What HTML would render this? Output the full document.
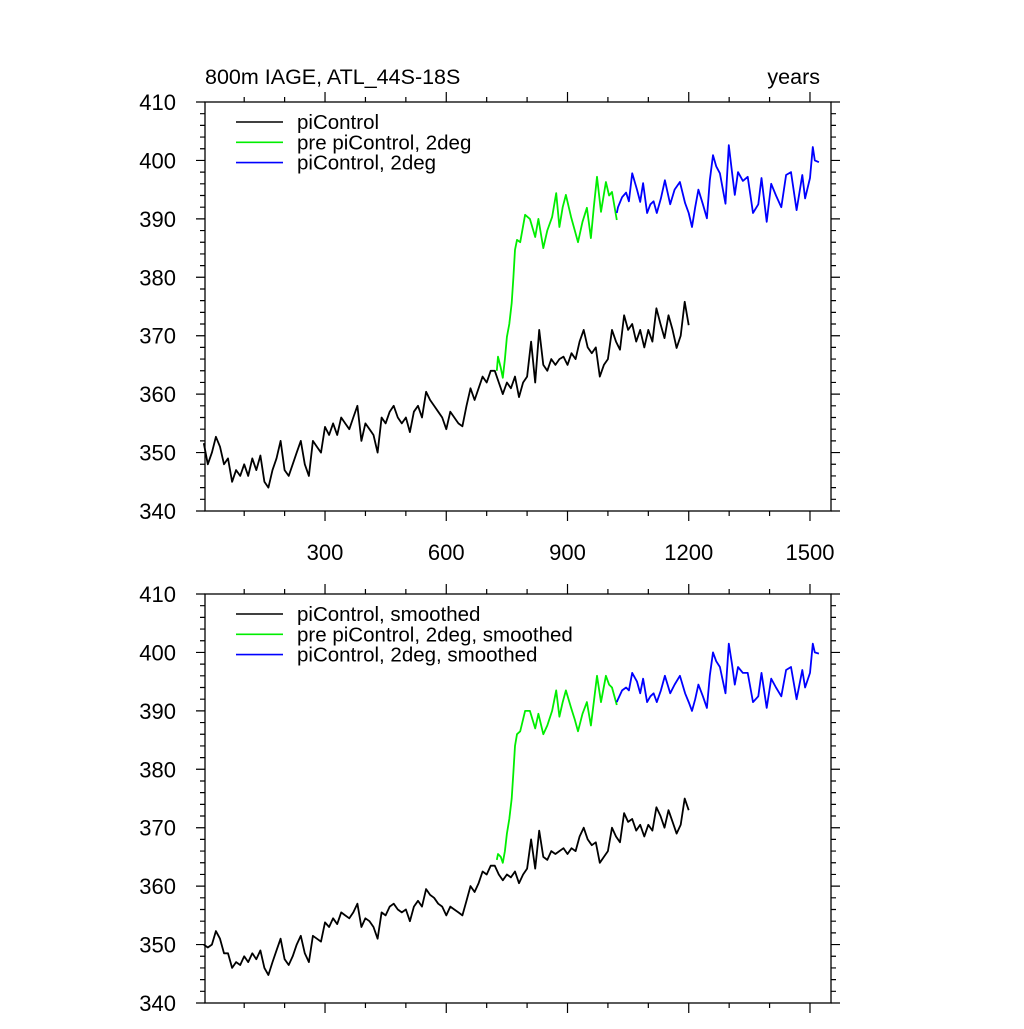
<!DOCTYPE html>
<html><head><meta charset="utf-8"><style>
html,body{margin:0;padding:0;background:#fff}
svg text{font-family:"Liberation Sans",sans-serif;fill:#000}
</style></head><body>
<svg id="c" width="1024" height="1024" viewBox="0 0 1024 1024"></svg>
<script>
const blackStart=0, blackStep=10;
const blackRaw=[351.6,348,350,352.7,351,348,349,345,347,346,
348,346,349,347,349.5,345,344,347,349,352,
347,346,348,350,352,348,346,352,351,350,
354.4,353,355,353,356,355,354,356,358,352,
355,354,353,350,356,355,357,358,356,355,
356,353.5,357,358,356,360.4,359,358,357,356,
354,357,356,355,354.5,358,361,359,361,363,
362,364,364,362,360,362,361,363,359.5,362,
363,369,362,371,365,364,366,365,366,366.4,
365,367,366,369,371,368,367,368,363,365,
366,371,369,367.6,373.5,371,372,369,371,368,
371,369,374.7,372,369.6,373.5,371,367.9,370,375.8,371.8];
const blackSmooth=[350,349.5,350,352.3,351,348.5,348.5,346,347,346.5,
348,347,348.5,347.5,349,346,344.8,347,349,351,
347.5,346.5,348,350,351.5,348.5,347,351.5,351,350.5,
353.8,353,354.5,353.5,355.5,355,354.5,355.5,357,353,
354.5,354,353,351,355.5,355,356.5,357,356,355.5,
356,354,356.5,357.5,356.5,359.5,358.5,358,357,356.5,
355,356.5,356,355.5,355,357.5,360,359,360.5,362.5,
362,363.5,363.5,362,361,362,361.5,362.5,360.5,362,
363,368,363,369.5,365,364.5,366,365.5,366,366.5,
365.5,366.5,366,368.5,370,368,367,367.5,364,365,
366,370,368.5,367.5,372.5,371,371.5,369.5,370.5,368.5,
370.5,369.5,373.5,372,370,373,371,369,370.5,375,373];
const greenYears=[725,728,735,740,745,750,756,762,766,770,775,783,795,807,820,828,840,850,862,872,880,888,896,909,918,926,937,948,958,965,973,983,995,1003,1010,1022];
const greenRaw=[364,366.4,364.5,362.8,366,369.8,372,375.6,380,384.7,386.4,386,390.7,390,386.9,390,385,388,390.3,394.4,388.6,392,394.1,390.3,388,386,389.5,391.9,386.7,392,397.2,391.2,396.3,394,394.6,389.8];
const greenSmooth=[364.5,365.5,365,364,366,369,371.5,375,379.5,384,386,386.5,390,390,387,389.5,386,387.5,390,393.5,389,391.5,393.5,390.5,388.5,386.5,389.5,391.5,387.5,391.5,396,391.5,396,394.5,394,391];
const blueYears=[1022,1025,1035,1045,1052,1060,1072,1080,1087,1097,1105,1113,1121,1131,1141,1154,1165,1178,1191,1200,1208,1216,1224,1235,1245,1252,1260,1268,1277,1291,1299,1307,1314,1322,1334,1346,1359,1372,1380,1393,1404,1416,1429,1441,1453,1467,1481,1488,1500,1507,1512,1522];
const blueRaw=[391,392,393.7,394.5,393,397.8,395,392.9,396.1,391,392.5,393,391,393.5,396.6,392.5,395,396.3,392.7,391,388.6,392,395,392.5,390.1,396.6,400.9,399,397.8,392.6,402.6,398,394.1,398,396.5,397.2,391,392.5,397,389.5,396,394,392,397.5,398,391.5,397.5,393.5,397,402.3,400,399.7];
const blueSmooth=[391.5,392,393.5,394,393.5,396.5,395,393,395.5,391.5,392.5,393,391.5,393.5,396,393,394.5,396,393,391.5,390,392,394.5,392.5,390.5,396,400,398.5,397.5,393,401.5,398,394.5,397.5,396.5,396.5,391.5,392.5,396.5,390.5,395.5,394,392.5,397,397.5,392,397,394,396.5,401.5,400,399.8];
const yTicks=[340,350,360,370,380,390,400,410];
const xTicks=[300,600,900,1200,1500];

const NS='http://www.w3.org/2000/svg';
const svg=document.getElementById('c');
const X0=205,X1=831,D0=3,D1=1552;
function sx(v){return X0+(v-D0)*(X1-X0)/(D1-D0);}
function mk(t,a,p){const e=document.createElementNS(NS,t);for(const k in a)e.setAttribute(k,a[k]);(p||svg).appendChild(e);return e;}

function panel(top,bot,name,legendNames,bl,gr,bu,showX){
  const g=mk('g',{});
  
  
  const sy=v=>top+(410-v)*(bot-top)/70;
  const frame=mk('rect',{x:X0,y:top,width:X1-X0,height:bot-top,fill:'none',stroke:'#000','stroke-width':1.3},g);
  
  
  let tk='';
  for(let v=340;v<=410;v+=2){const y=sy(v);const L=(v%10===0)?9:5;tk+=`M${X0} ${y}h${-L}M${X1} ${y}h${L}`;}
  for(let v=100;v<=1500;v+=100){const x=sx(v);const L=(v%300===0)?10:5;tk+=`M${x} ${top}v${-L}M${x} ${bot}v${L}`;}
  const tp=mk('path',{d:tk,stroke:'#000','stroke-width':1.2,fill:'none'},g);
  
  
  yTicks.forEach(v=>{const t=mk('text',{x:176,y:sy(v)+8,'text-anchor':'end','font-size':22},g);t.textContent=v;
    
    });
  if(showX) xTicks.forEach(v=>{const t=mk('text',{x:sx(v),y:bot+49,'text-anchor':'middle','font-size':22},g);t.textContent=v;
    
    });
  function line(xs,ys,col,nm){
    const d=ys.map((v,i)=>(i?'L':'M')+sx(xs[i]).toFixed(1)+' '+sy(v).toFixed(1)).join('');
    const p=mk('path',{d:d,stroke:col,'stroke-width':1.8,fill:'none','stroke-linejoin':'round'},g);
    
    
  }
  line(bl.map((_,i)=>blackStart+i*blackStep),bl,'#000','series-picontrol');
  line(greenYears,gr,'#00ee00','series-pre-picontrol-2deg');
  line(blueYears,bu,'#0000ff','series-picontrol-2deg');
  const cols=['#000','#00ee00','#0000ff'];
  legendNames.forEach((n,i)=>{
    const y=top+20+i*20.3;
    const l=mk('line',{x1:236,x2:283,y1:y,y2:y,stroke:cols[i],'stroke-width':1.6},g);
    
    
    const t=mk('text',{x:297,y:y+7,'font-size':20.5},g);t.textContent=n;
    
    
  });
}
const title=mk('text',{x:205,y:84,'font-size':21.5});title.textContent='800m IAGE, ATL_44S-18S';


const yr=mk('text',{x:820,y:84,'font-size':21.5,'text-anchor':'end'});yr.textContent='years';


panel(102,511,'top-panel',['piControl','pre piControl, 2deg','piControl, 2deg'],blackRaw,greenRaw,blueRaw,true);
panel(594,1003,'bottom-panel',['piControl, smoothed','pre piControl, 2deg, smoothed','piControl, 2deg, smoothed'],blackSmooth,greenSmooth,blueSmooth,false);
</script>
</body></html>
